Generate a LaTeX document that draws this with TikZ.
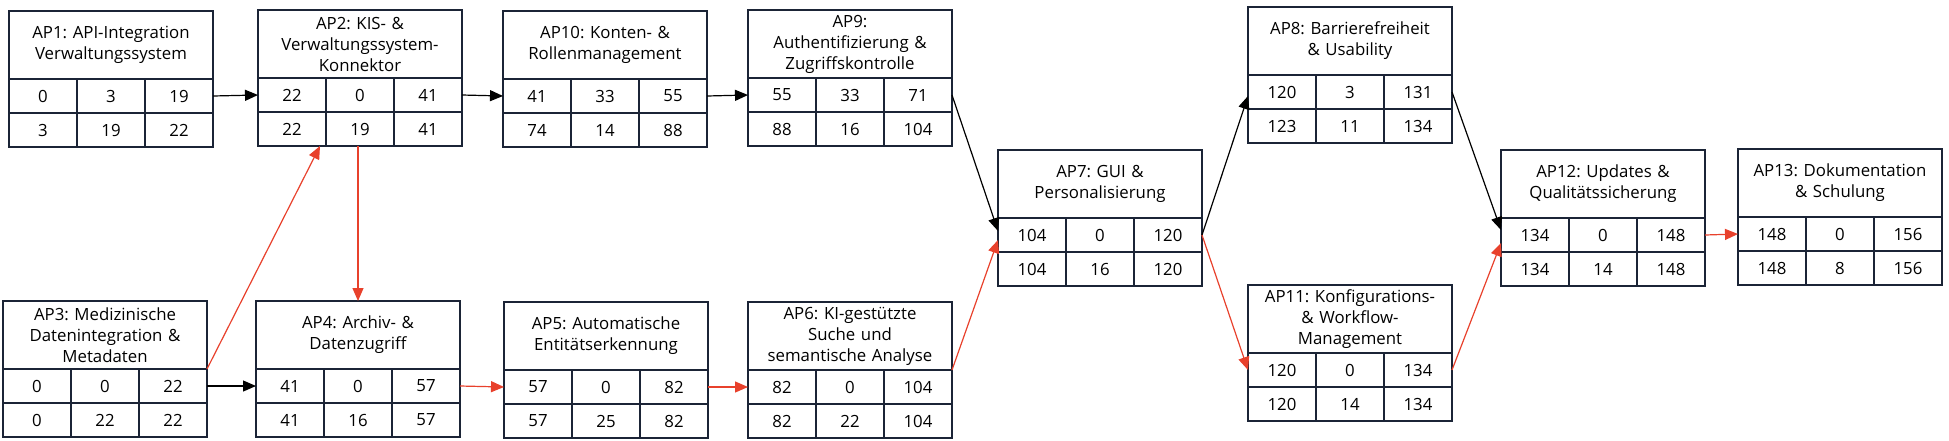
\documentclass[tikz,border=0pt]{standalone}
\usepackage{fontspec}
\setmainfont{Open Sans}
\usepackage{xcolor}
\usepackage{tikz}
\usetikzlibrary{
    positioning,
    arrows.meta
}
\frenchspacing
\definecolor{boxline}{HTML}{1B2436}
\definecolor{critred}{HTML}{E8412C}
\tikzset{
    wptitle/.style = {
        draw=boxline,
        line width=1pt,
        outer sep=0pt,
        inner xsep=2pt,
        inner ysep=1pt,
        text width=98pt,
        minimum height=34pt,
        align=center,
        font=\fontsize{8.4}{10.5}\selectfont
    },
    wpcell/.style = {
        draw=boxline,
        line width=1pt,
        outer sep=0pt,
        inner sep=0pt,
        minimum width=34pt,
        minimum height=17pt,
        font=\fontsize{8.4}{10.5}\selectfont
    },
    dep/.style = {
        -{Triangle[length=6.5pt,width=5.5pt]},
        line width=0.6pt,
        black
    },
    crit/.style = {
        dep,
        critred
    }
}
\newcommand{\wpbox}[9]{%
    \node[wptitle, anchor=north west] (#1) at #2 {#3};
    \node[wpcell, anchor=north west] (#1-a) at (#1.south west) {#4};
    \node[wpcell, right=0pt of #1-a] (#1-b) {#5};
    \node[wpcell, right=0pt of #1-b] (#1-c) {#6};
    \node[wpcell, below=0pt of #1-a] (#1-d) {#7};
    \node[wpcell, right=0pt of #1-d] (#1-e) {#8};
    \node[wpcell, right=0pt of #1-e] (#1-f) {#9};
}

\begin{document}
\begin{tikzpicture}[x=0.5pt, y=-0.5pt]
    \useasboundingbox (0,0) rectangle (1949,440);

    \wpbox{ap1}{(9,11)}{AP1: API-Integration\\Verwaltungssystem}{0}{3}{19}{3}{19}{22}
    \wpbox{ap2}{(258,10)}{AP2: KIS- \&\\Verwaltungssystem-\\Konnektor}{22}{0}{41}{22}{19}{41}
    \wpbox{ap10}{(503,11)}{AP10: Konten- \&\\Rollenmanagement}{41}{33}{55}{74}{14}{88}
    \wpbox{ap9}{(748,10)}{AP9:\\Authentifizierung \&\\Zugriffskontrolle}{55}{33}{71}{88}{16}{104}
    \wpbox{ap3}{(3,301)}{AP3: Medizinische\\Datenintegration \&\\Metadaten}{0}{0}{22}{0}{22}{22}
    \wpbox{ap4}{(256,301)}{AP4: Archiv- \&\\Datenzugriff}{41}{0}{57}{41}{16}{57}
    \wpbox{ap5}{(504,302)}{AP5: Automatische\\Entitätserkennung}{57}{0}{82}{57}{25}{82}
    \wpbox{ap6}{(748,302)}{AP6: KI-gestützte\\Suche und\\semantische Analyse}{82}{0}{104}{82}{22}{104}
    \wpbox{ap7}{(998,150)}{AP7: GUI \&\\Personalisierung}{104}{0}{120}{104}{16}{120}
    \wpbox{ap8}{(1248,7)}{AP8: Barrierefreiheit\\\& Usability}{120}{3}{131}{123}{11}{134}
    \wpbox{ap11}{(1248,285)}{AP11: Konfigurations-\\\& Workflow-\\Management}{120}{0}{134}{120}{14}{134}
    \wpbox{ap12}{(1501,150)}{AP12: Updates \&\\Qualitätssicherung}{134}{0}{148}{134}{14}{148}
    \wpbox{ap13}{(1738,149)}{AP13: Dokumentation\\\& Schulung}{148}{0}{156}{148}{8}{156}

    \draw[dep] (ap1-c.east) -- (ap2-a.west);
    \draw[dep] (ap2-c.east) -- (ap10-a.west);
    \draw[dep] (ap10-c.east) -- (ap9-a.west);
    \draw[dep] (ap9-c.east) -- ([yshift=2pt]ap7-a.west);
    \draw[dep] (ap3-c.east) -- (ap4-a.west);
    \draw[dep] (ap7-c.east) -- ([yshift=-2pt]ap8-a.west);
    \draw[dep] (ap8-c.east) -- ([yshift=2.5pt]ap12-a.west);

    \draw[crit] (ap3.south east) -- ([xshift=-3pt]ap2-d.south east);
    \draw[crit] (ap4.north |- ap2-e.south) -- (ap4.north);
    \draw[crit] (ap4-c.east) -- (ap5-a.west);
    \draw[crit] (ap5-c.east) -- (ap6-a.west);
    \draw[crit] (ap6.south east) -- ([yshift=-2.5pt]ap7-a.west);
    \draw[crit] (ap7-c.east) -- (ap11-a.west);
    \draw[crit] (ap11-c.east) -- ([yshift=-4pt]ap12-a.west);
    \draw[crit] (ap12-c.east) -- (ap13-a.west);
\end{tikzpicture}
\end{document}
